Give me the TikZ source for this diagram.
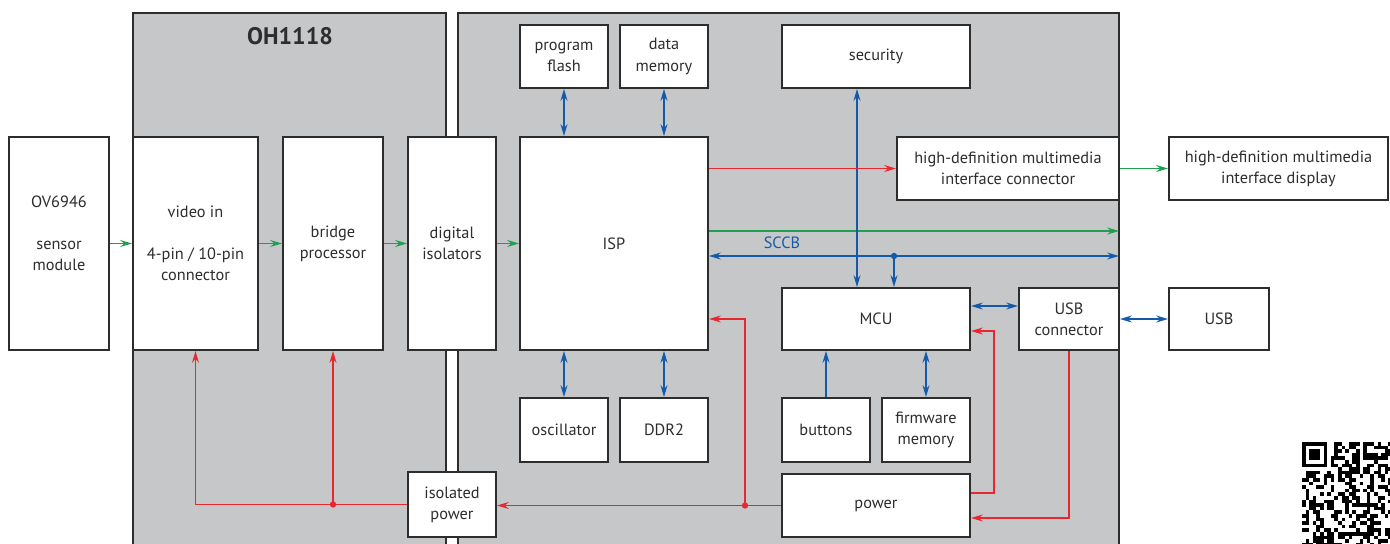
\documentclass[tikz,border=0pt]{standalone}
\usepackage{fontspec}
\setmainfont{PT Sans}
\usepackage{tikz}
\usetikzlibrary{arrows.meta}
\definecolor{boxgray}{RGB}{198,199,201}
\definecolor{txtgray}{RGB}{45,45,45}
\definecolor{sigred}{RGB}{232,40,48}
\definecolor{siggreen}{RGB}{30,160,80}
\definecolor{sigblue}{RGB}{20,90,170}
\tikzset{blk/.style={rectangle,draw=txtgray,fill=white,line width=1.4pt,inner sep=0pt,align=center,text=txtgray,font=\fontsize{11.6}{15}\selectfont}}
\tikzset{tall/.style={blk,minimum height=5.325cm}}
\tikzset{low/.style={blk,minimum height=1.575cm}}
\tikzset{grp/.style={draw=txtgray,fill=boxgray,line width=1.4pt}}
\tikzset{vid/.style={siggreen,line width=0.8pt}}
\tikzset{ctl/.style={sigblue,line width=0.8pt}}
\tikzset{pwr/.style={sigred,line width=0.8pt}}
\tikzset{jdot/.style={circle,inner sep=0pt,minimum size=4.5pt}}

\begin{document}
\begin{tikzpicture}[x=0.025cm,y=-0.025cm,>={Stealth[length=8.5pt,width=5pt,inset=3pt]}]
    \useasboundingbox (0,0) rectangle (1390,544);

    % housings
    \draw[grp] (133,13) rectangle (446,560);
    \draw[grp] (458,13) rectangle (1119,560);
    \node[font=\fontsize{17}{20}\selectfont\bfseries,text=txtgray] (title)at (290,36) {OH1118};

    % signal chain
    \node[tall,minimum width=2.5cm] (sensor)at (59,243.5) {OV6946\\[15pt]sensor\\module\\\mbox{}};
    \node[tall,minimum width=3.125cm] (videoin)at (195.5,243.5) {video in\\[15pt]4-pin / 10-pin\\connector};
    \node[tall,minimum width=2.5cm] (bridge)at (333,243.5) {bridge\\processor};
    \node[tall,minimum width=2.2cm] (isol)at (452,243.5) {digital\\isolators};
    \node[tall,minimum width=4.7cm] (isp)at (614,243.5) {ISP};

    \node[low,minimum width=2.2cm] (pflash)at (564,56.5) {program\\flash};
    \node[low,minimum width=2.2cm] (dmem)at (664,56.5) {data\\memory};
    \node[low,minimum width=2.2cm,minimum height=1.6cm] (osc)at (564,430) {oscillator};
    \node[low,minimum width=2.2cm,minimum height=1.6cm] (ddr)at (664,430) {DDR2};
    \node[low,minimum width=4.7cm] (security)at (876,56.5) {security};
    \node[low,minimum width=5.55cm] (hdmic)at (1008,168.5) {high-definition multimedia\\interface connector};
    \node[low,minimum width=5.475cm] (hdmid)at (1278.5,168.5) {high-definition multimedia\\interface display};

    \node[low,minimum width=4.7cm,minimum height=1.55cm] (mcu)at (876,319) {MCU};
    \node[low,minimum width=2.5cm,minimum height=1.55cm] (usbc)at (1069,319) {USB\\connector};
    \node[low,minimum width=2.5cm,minimum height=1.55cm] (usb)at (1219,319) {USB};
    \node[low,minimum width=2.2cm,minimum height=1.6cm] (buttons)at (826,430) {buttons};
    \node[low,minimum width=2.2cm,minimum height=1.6cm] (fwmem)at (926,430) {firmware\\memory};
    \node[low,minimum width=4.7cm] (power)at (876,505.5) {power};
    \node[low,minimum width=2.2cm,minimum height=1.625cm] (isopow)at (452,504.5) {isolated\\power};

    % helper points
    \coordinate (gout)at (1119,231);
    \coordinate (sccb)at (1119,256);
    \coordinate (tap)at (894,256);
    \coordinate (secx)at (857,0);
    \coordinate (musb)at (0,306);
    \coordinate (ispin)at (0,319);
    \coordinate (pj)at (745,505.5);
    \coordinate (pbus)at (994,493);
    \coordinate (mcuin)at (0,331);
    \coordinate (pwrin)at (0,518);

    % video
    \draw [vid,->] (sensor) to (videoin);
    \draw [vid,->] (videoin) to (bridge);
    \draw [vid,->] (bridge) to (isol);
    \draw [vid,->] (isol) to (isp);
    \draw [vid,->] (isp.east |- gout) to (gout);
    \draw [vid,->] (hdmic) to (hdmid);

    % control
    \draw [ctl,<->] (isp.east |- sccb) to (sccb);
    \node[text=sigblue,font=\fontsize{11.6}{15}\selectfont] (sccblbl)at (782,243) {SCCB};
    \node[jdot,fill=sigblue] (tapdot)at (tap) {};
    \draw [ctl,->] (tap) to (tap |- mcu.north);
    \draw [ctl,<->] (security.south -| secx) to (mcu.north -| secx);
    \draw [ctl,<->] (pflash.south) to (pflash.south |- isp.north);
    \draw [ctl,<->] (dmem.south) to (dmem.south |- isp.north);
    \draw [ctl,<->] (osc.north |- isp.south) to (osc.north);
    \draw [ctl,<->] (ddr.north |- isp.south) to (ddr.north);
    \draw [ctl,<->] (mcu.east |- musb) to (usbc.west |- musb);
    \draw [ctl,<->] (usbc) to (usb);
    \draw [ctl,->] (buttons.north) to (buttons.north |- mcu.south);
    \draw [ctl,<->] (fwmem.north) to (fwmem.north |- mcu.south);

    % power
    \draw [pwr,->] (isp.east |- hdmic) to (hdmic.west);
    \draw [pwr,->] (power.west) to (power.west -| isopow.east);
    \node[jdot,fill=sigred] (pjdot)at (pj) {};
    \draw [pwr,->] (pj) |- (isp.east |- ispin);
    \draw [pwr,->] (isopow.west) -| (videoin.south);
    \node[jdot,fill=sigred] (bjdot)at (bridge.south |- isopow.west) {};
    \draw [pwr,->] (bridge.south |- isopow.west) to (bridge.south);
    \draw [pwr,->] (power.east |- pbus) -- (pbus) |- (mcu.east |- mcuin);
    \draw [pwr,->] (usbc.south) |- (power.east |- pwrin);

    % qr code
    \pgfmathsetseed{1118}
    \foreach \i in {0,...,24}{
      \foreach \j in {0,...,28}{
        \pgfmathtruncatemacro\qbit{(\i<8 && \j<8) ? 0 : (rnd>0.5)}
        \ifnum\qbit=1 \fill (1302+\i*3.6,442+\j*3.6) rectangle ++(3.6,3.6); \fi
      }
    }
    \fill (1302,442) rectangle ++(25.2,25.2);
    \fill[white] (1305.6,445.6) rectangle ++(18,18);
    \fill (1309.2,449.2) rectangle ++(10.8,10.8);
\end{tikzpicture}
\end{document}
